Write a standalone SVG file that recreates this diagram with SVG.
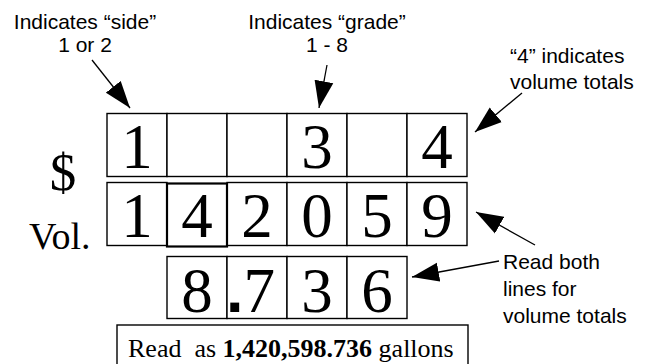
<svg xmlns="http://www.w3.org/2000/svg" width="650" height="364" viewBox="0 0 650 364">
<style>
.lbl{font-family:"Liberation Sans",Arial,sans-serif;font-size:21px;fill:#000}
.dig{font-family:"Liberation Serif","Times New Roman",serif;font-size:63px;fill:#000;text-anchor:middle}
.digs{font-family:"Liberation Serif","Times New Roman",serif;font-size:63px;fill:#000;text-anchor:start}
.cell{fill:#fff;stroke:#000;stroke-width:1.4}
.thick{fill:#fff;stroke:#000;stroke-width:2.2}
.conn{stroke:#000;stroke-width:1.3;fill:none;marker-end:url(#ah)}
.dot{font-family:"Liberation Sans",Arial,sans-serif;font-weight:bold}
</style>
<defs>
<marker id="ah" markerUnits="userSpaceOnUse" markerWidth="28" markerHeight="20" refX="27" refY="10" orient="auto">
<path d="M0,0.5 L27,10 L0,19.5 z" fill="#000"/>
</marker>
</defs>
<rect width="650" height="364" fill="#fff"/>

<g id="label-side">
<text class="lbl" x="85" y="29" text-anchor="middle">Indicates “side”</text>
<text class="lbl" x="85" y="52" text-anchor="middle">1 or 2</text>
</g>
<g id="label-grade">
<text class="lbl" x="327" y="29" text-anchor="middle">Indicates “grade”</text>
<text class="lbl" x="327" y="52" text-anchor="middle">1 - 8</text>
</g>
<g id="label-four">
<text class="lbl" x="510" y="63">“4” indicates</text>
<text class="lbl" x="510" y="89">volume totals</text>
</g>
<g id="label-read">
<text class="lbl" x="503" y="269">Read both</text>
<text class="lbl" x="503" y="296">lines for</text>
<text class="lbl" x="503" y="323">volume totals</text>
</g>

<g id="dollar-label">
<text x="63" y="190" text-anchor="middle" style="font-family:'Liberation Serif','Times New Roman',serif;font-size:53px">$</text>
</g>
<g id="vol-label">
<text x="29" y="249" style="font-family:'Liberation Serif','Times New Roman',serif;font-size:38px">Vol.</text>
</g>

<g id="row-dollar">
<rect class="cell" x="107" y="113.5" width="60" height="63"/>
<rect class="cell" x="167" y="113.5" width="60" height="63"/>
<rect class="cell" x="227" y="113.5" width="60" height="63"/>
<rect class="cell" x="287" y="113.5" width="60" height="63"/>
<rect class="cell" x="347" y="113.5" width="60" height="63"/>
<rect class="cell" x="407" y="113.5" width="60" height="63"/>
<text class="dig" x="137" y="168">1</text>
<text class="dig" x="317" y="168">3</text>
<text class="dig" x="437" y="168">4</text>
</g>

<g id="row-vol">
<rect class="cell" x="107" y="182.5" width="60" height="63"/>
<rect class="cell" x="227" y="182.5" width="60" height="63"/>
<rect class="cell" x="287" y="182.5" width="60" height="63"/>
<rect class="cell" x="347" y="182.5" width="60" height="63"/>
<rect class="cell" x="407" y="182.5" width="60" height="63"/>
<rect class="thick" x="167" y="183.5" width="60" height="63"/>
<text class="dig" x="137" y="237">1</text>
<text class="dig" x="197" y="237">4</text>
<text class="dig" x="257" y="237">2</text>
<text class="dig" x="317" y="237">0</text>
<text class="dig" x="377" y="237">5</text>
<text class="dig" x="437" y="237">9</text>
</g>

<g id="row-decimal">
<rect class="cell" x="167" y="256.5" width="60" height="62"/>
<rect class="cell" x="227" y="256.5" width="60" height="62"/>
<rect class="cell" x="287" y="256.5" width="60" height="62"/>
<rect class="cell" x="347" y="256.5" width="60" height="62"/>
<text class="dig" x="197" y="311.5">8</text>
<text class="digs" x="226" y="311.5"><tspan class="dot">.</tspan>7</text>
<text class="dig" x="317" y="311.5">3</text>
<text class="dig" x="377" y="311.5">6</text>
</g>

<g id="read-as-box">
<rect class="cell" x="117" y="325" width="351" height="50"/>
<text x="128" y="357" xml:space="preserve" style="font-family:'Liberation Serif','Times New Roman',serif;font-size:26px">Read  as <tspan font-weight="bold">1,420,598.736</tspan> gallons</text>
</g>

<g id="connectors">
<line class="conn" x1="92" y1="60" x2="130" y2="108"/>
<line class="conn" x1="327" y1="65" x2="319" y2="108"/>
<line class="conn" x1="522" y1="93" x2="475" y2="132"/>
<line class="conn" x1="535" y1="245" x2="476" y2="212"/>
<line class="conn" x1="499" y1="261" x2="412" y2="277"/>
</g>
</svg>
